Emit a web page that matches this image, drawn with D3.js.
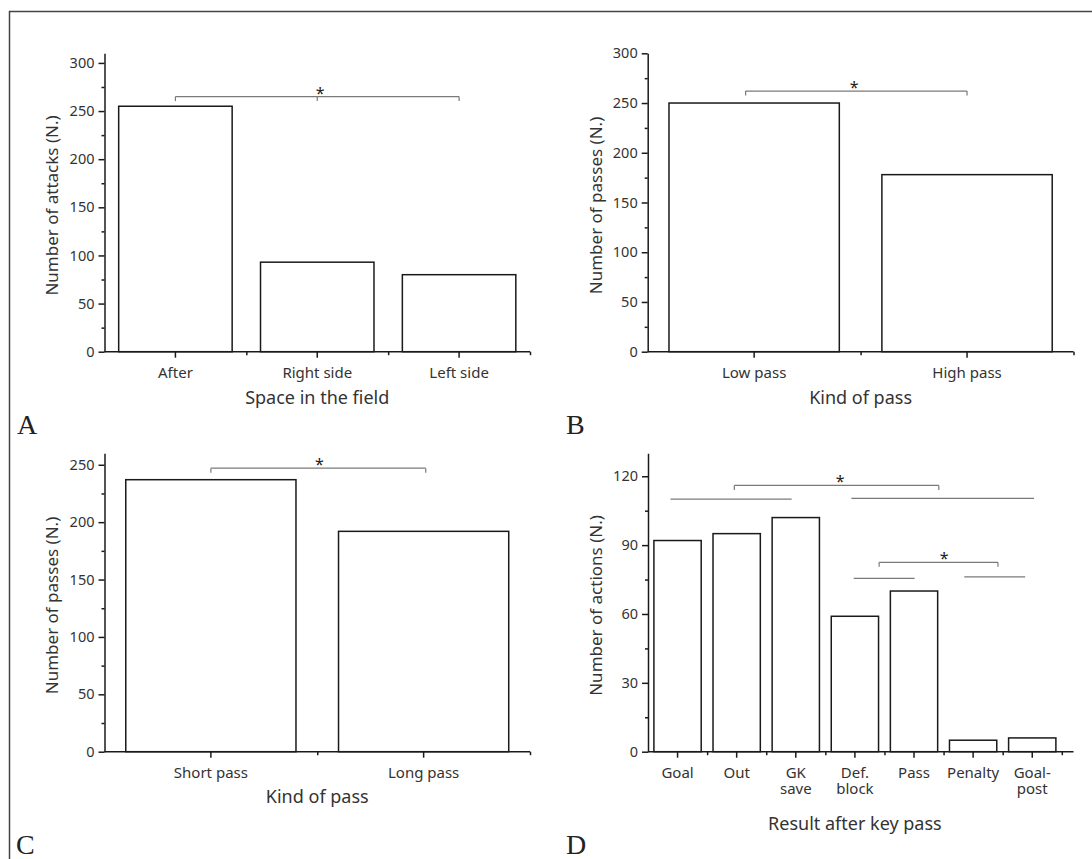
<!DOCTYPE html>
<html>
<head>
<meta charset="utf-8">
<script src="https://cdn.jsdelivr.net/npm/d3@7"></script>
<style>
  body { margin: 0; background: #fff; }
  svg text { font-family: "Noto Sans", "Open Sans", sans-serif; fill: #333; }
  .axis path, .axis line { stroke: #1a1a1a; stroke-width: 1.5; }
  .bar { fill: #fff; stroke: #1a1a1a; stroke-width: 1.5; }
  .sig { fill: none; stroke: #7a7a7a; stroke-width: 1.2; }
</style>
</head>
<body>
<svg width="1092" height="859"></svg>
<script>
// A: space in the field
const spaceCats = ['After', 'Right side', 'Left side'];
const spaceAttacks = [255, 93, 80];
const spaceTicks = [0, 50, 100, 150, 200, 250, 300];
const spaceMinor = [25, 75, 125, 175, 225, 275];

// B: kind of pass (height)
const heightCats = ['Low pass', 'High pass'];
const heightPasses = [250, 178];
const heightTicks = [0, 50, 100, 150, 200, 250, 300];
const heightMinor = [25, 75, 125, 175, 225, 275];

// C: kind of pass (length)
const lengthCats = ['Short pass', 'Long pass'];
const lengthPasses = [237, 192];
const lengthTicks = [0, 50, 100, 150, 200, 250];
const lengthMinor = [25, 75, 125, 175, 225];

// D: result after key pass
const resultCats = ['Goal', 'Out', 'GK\nsave', 'Def.\nblock', 'Pass', 'Penalty', 'Goal-\npost'];
const resultActions = [92, 95, 102, 59, 70, 5, 6];
const resultTicks = [0, 30, 60, 90, 120];
const resultMinor = [15, 45, 75, 105];

// significance lines, x in category index units, y in data units
const sigA = [{ x0: 0, x1: 2, y: 265, ticks: [0, 1, 2], star: 1.02 }];
const sigB = [{ x0: -0.04, x1: 1, y: 262, ticks: [-0.04, 1], star: 0.47 }];
const sigC = [{ x0: 0, x1: 1.01, y: 247, ticks: [0, 1.01], star: 0.51 }];
const sigD = [
  { x0: -0.12, x1: 1.93, y: 110, ticks: [], star: null },
  { x0: 0.96, x1: 4.42, y: 116, ticks: [0.96, 4.42], star: 2.75 },
  { x0: 2.94, x1: 6.03, y: 110.4, ticks: [], star: null },
  { x0: 3.41, x1: 5.42, y: 82.5, ticks: [3.41, 5.42], star: 4.51 },
  { x0: 2.98, x1: 4.01, y: 75.5, ticks: [], star: null },
  { x0: 4.85, x1: 5.88, y: 76.2, ticks: [], star: null }
];

const svg = d3.select('svg');

// outer frame (cut at right and bottom like the page)
svg.append('path')
  .attr('d', 'M9.5,859V11.5H1092')
  .attr('fill', 'none')
  .attr('stroke', '#444')
  .attr('stroke-width', 1.5);

const panels = [
  { label: 'A', lx: 17, ly: 434, cats: spaceCats, values: spaceAttacks, ticks: spaceTicks, minor: spaceMinor,
    yMax: 310, left: 104.5, right: 530, end: 530, top: 53.3, bottom: 351.7,
    yTitle: 'Number of attacks (N.)', xTitle: 'Space in the field', xTitleDy: 52.6, sig: sigA },
  { label: 'B', lx: 566, ly: 434, cats: heightCats, values: heightPasses, ticks: heightTicks, minor: heightMinor,
    yMax: 300, left: 647.7, right: 1073.5, end: 1073.5, top: 53.3, bottom: 351.7,
    yTitle: 'Number of passes (N.)', xTitle: 'Kind of pass', xTitleDy: 52.6, sig: sigB },
  { label: 'C', lx: 16, ly: 854, cats: lengthCats, values: lengthPasses, ticks: lengthTicks, minor: lengthMinor,
    yMax: 260, left: 104.5, right: 530, end: 530, top: 453.3, bottom: 751.7,
    yTitle: 'Number of passes (N.)', xTitle: 'Kind of pass', xTitleDy: 51.5, sig: sigC },
  { label: 'D', lx: 566, ly: 854, cats: resultCats, values: resultActions, ticks: resultTicks, minor: resultMinor,
    yMax: 130, left: 648, right: 1061.8, end: 1073.5, top: 453.3, bottom: 751.7,
    yTitle: 'Number of actions (N.)', xTitle: 'Result after key pass', xTitleDy: 78.3, sig: sigD }
];

panels.forEach(drawPanel);

function drawPanel(p) {
  const g = svg.append('g');
  const n = p.cats.length;

  const y = d3.scaleLinear().domain([0, p.yMax]).range([p.bottom, p.top]);
  const x = d3.scaleBand().domain(p.cats).range([p.left, p.right])
    .paddingInner(0.2).paddingOuter(0.1);
  const pos = d3.scaleLinear().domain([-0.5, n - 0.5]).range([p.left, p.right]);

  // bars
  g.selectAll('rect.bar')
    .data(p.cats.map((c, i) => ({ cat: c, value: p.values[i] })))
    .enter()
    .append('rect')
    .attr('class', 'bar')
    .attr('x', d => x(d.cat))
    .attr('width', x.bandwidth())
    .attr('y', d => y(d.value))
    .attr('height', d => p.bottom - y(d.value));

  // y axis
  g.append('g')
    .attr('class', 'axis')
    .attr('transform', 'translate(' + p.left + ',0)')
    .call(d3.axisLeft(y).tickValues(p.ticks).tickSize(6).tickSizeOuter(0).tickPadding(4))
    .call(a => a.selectAll('text').style('font-size', '14.5px'));

  g.append('g')
    .attr('class', 'axis')
    .attr('transform', 'translate(' + p.left + ',0)')
    .call(d3.axisLeft(y).tickValues(p.minor).tickSize(3).tickFormat(''))
    .call(a => a.select('.domain').remove());

  // x axis
  const xa = g.append('g')
    .attr('class', 'axis')
    .attr('transform', 'translate(0,' + p.bottom + ')')
    .call(d3.axisBottom(x).tickSize(6).tickPadding(9.4));
  xa.select('.domain').remove();
  xa.append('line')
    .attr('x1', p.left).attr('x2', p.end)
    .attr('y1', 0).attr('y2', 0);
  xa.selectAll('text')
    .style('font-size', '15px')
    .each(function (d) {
      const lines = d.split('\n');
      const t = d3.select(this).text(null);
      lines.forEach((s, i) => {
        t.append('tspan').attr('x', 0).attr('dy', i === 0 ? '0.71em' : '16.5px').text(s);
      });
    });

  g.append('g')
    .attr('class', 'axis')
    .attr('transform', 'translate(0,' + p.bottom + ')')
    .call(d3.axisBottom(pos).tickValues(d3.range(n).map(i => i + 0.5)).tickSize(3.5).tickFormat(''))
    .call(a => a.select('.domain').remove());

  // titles
  g.append('text')
    .attr('transform', 'translate(' + (p.left - 52) + ',' + ((p.top + p.bottom) / 2 + 3) + ') rotate(-90)')
    .attr('text-anchor', 'middle')
    .attr('dy', '0.35em')
    .style('font-size', '17px')
    .text(p.yTitle);

  g.append('text')
    .attr('x', (p.left + p.right) / 2)
    .attr('y', p.bottom + p.xTitleDy)
    .attr('text-anchor', 'middle')
    .style('font-size', '18px')
    .text(p.xTitle);

  // significance marks
  p.sig.forEach(s => {
    g.append('line')
      .attr('class', 'sig')
      .attr('x1', pos(s.x0)).attr('x2', pos(s.x1))
      .attr('y1', y(s.y)).attr('y2', y(s.y));
    s.ticks.forEach(t => {
      g.append('line')
        .attr('class', 'sig')
        .attr('x1', pos(t)).attr('x2', pos(t))
        .attr('y1', y(s.y)).attr('y2', y(s.y) + 4.5);
    });
    if (s.star !== null) {
      g.append('text')
        .attr('x', pos(s.star))
        .attr('y', y(s.y) + 2)
        .attr('text-anchor', 'middle')
        .style('font-size', '16px')
        .style('fill', '#222')
        .text('*');
    }
  });

  // panel letter
  svg.append('text')
    .attr('x', p.lx)
    .attr('y', p.ly)
    .style('font-family', '"Liberation Serif", "Times New Roman", serif')
    .style('font-size', '28px')
    .style('fill', '#222')
    .text(p.label);
}
</script>
</body>
</html>
